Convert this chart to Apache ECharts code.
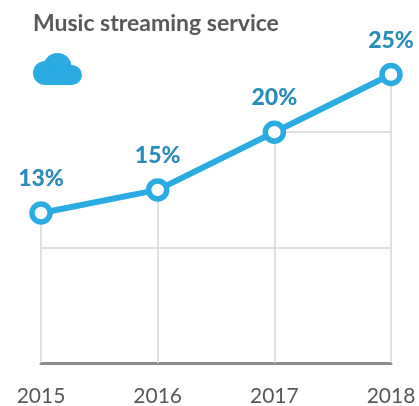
<!DOCTYPE html>
<html>
<head>
<meta charset="utf-8">
<script src="https://cdn.jsdelivr.net/npm/echarts@6/dist/echarts.min.js"></script>
<style>
  html, body { margin: 0; padding: 0; background: #fff; }
  #chart { width: 419px; height: 406px; }
</style>
</head>
<body>
<div id="chart"></div>
<script>
const years = ["2015", "2016", "2017", "2018"];
const share = [13, 15, 20, 25];
const labels = ["13%", "15%", "20%", "25%"];

const LINE = "#2aace2";
const LABEL = "#2a8cbb";
const GRID = "#d6d6d6";

// drop lines run from each point to the axis, gridlines only start where the data has passed them
const dropLines = years.map((y, i) => [
  { coord: [y, share[i]] },
  { coord: [y, 0] },
]);
const gridLines = [
  [{ coord: ["2015", 10] }, { coord: ["2018", 10] }],
  [{ coord: ["2017", 20] }, { coord: ["2018", 20] }],
];

const chart = echarts.init(document.getElementById("chart"), undefined, { renderer: "canvas" });
chart.setOption({
  animation: false,
  title: {
    text: "Music streaming service",
    left: 33,
    top: 12,
    padding: 0,
    textStyle: { fontFamily: "Lato", fontSize: 23, fontWeight: 700, color: "#58585a" },
  },
  // cloud icon
  graphic: [{
    type: "group",
    left: 33,
    top: 53,
    children: [
      { type: "circle", shape: { cx: 24.5, cy: 14, r: 14 }, style: { fill: LINE } },
      { type: "circle", shape: { cx: 12, cy: 20, r: 12 }, style: { fill: LINE } },
      { type: "circle", shape: { cx: 39, cy: 22, r: 10 }, style: { fill: LINE } },
      { type: "rect", shape: { x: 12, y: 16, width: 27, height: 16 }, style: { fill: LINE } },
    ],
  }],
  grid: { left: 41, right: 28, top: 74.5, bottom: 43, outerBoundsMode: "none" },
  xAxis: {
    type: "category",
    data: years,
    boundaryGap: false,
    axisTick: { show: false },
    axisLine: { lineStyle: { color: "#8c8c8c", width: 3 } },
    axisLabel: { color: "#58585a", fontFamily: "Lato", fontSize: 21, margin: 23 },
    splitLine: { show: false },
  },
  yAxis: {
    type: "value",
    min: 0,
    max: 25,
    show: false,
    splitLine: { show: false },
  },
  series: [{
    type: "line",
    data: share,
    z: 3,
    symbol: "circle",
    symbolSize: 18,
    showSymbol: true,
    lineStyle: { width: 6, color: LINE },
    itemStyle: { color: "#fff", borderColor: LINE, borderWidth: 5.5 },
    label: {
      show: true,
      position: "top",
      distance: 11,
      formatter: (p) => labels[p.dataIndex],
      color: LABEL,
      fontFamily: "Lato",
      fontWeight: 900,
      fontSize: 23,
    },
    markLine: {
      silent: true,
      z: 1,
      symbol: "none",
      animation: false,
      label: { show: false },
      lineStyle: { color: GRID, width: 1.5, type: "solid" },
      data: dropLines.concat(gridLines),
    },
  }],
});
</script>
</body>
</html>
